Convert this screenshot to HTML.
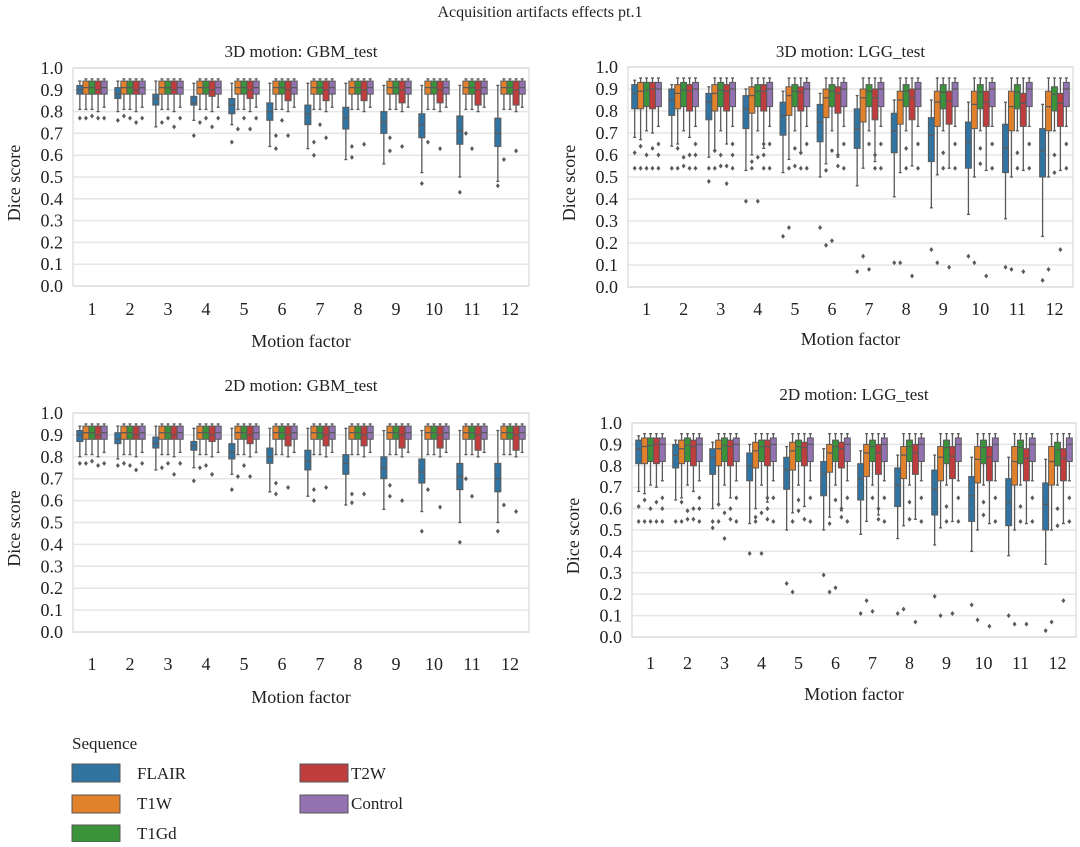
<!DOCTYPE html>
<html><head><meta charset="utf-8">
<style>
html,body{margin:0;padding:0;background:#fff;}
body{width:1080px;height:842px;overflow:hidden;font-family:"Liberation Serif",serif;}
svg text{font-family:"Liberation Serif",serif;fill:#222;}
</style></head>
<body>
<svg id="chart" width="1080" height="842" viewBox="0 0 1080 842" xmlns="http://www.w3.org/2000/svg">
<text x="540" y="17" font-size="16" text-anchor="middle">Acquisition artifacts effects pt.1</text>
<g id="panels"></g>
<g>
<text x="72" y="749" font-size="17">Sequence</text>
<rect x="72" y="764" width="48" height="18" fill="#3274a1" stroke="#555" stroke-width="1"/>
<text x="137" y="779" font-size="17">FLAIR</text>
<rect x="72" y="795" width="48" height="18" fill="#e1812c" stroke="#555" stroke-width="1"/>
<text x="137" y="809" font-size="17">T1W</text>
<rect x="72" y="825" width="48" height="17" fill="#3a923a" stroke="#555" stroke-width="1"/>
<text x="137" y="839" font-size="17">T1Gd</text>
<rect x="300" y="764" width="48" height="18" fill="#c03d3e" stroke="#555" stroke-width="1"/>
<text x="351" y="779" font-size="17">T2W</text>
<rect x="300" y="795" width="48" height="18" fill="#9372b2" stroke="#555" stroke-width="1"/>
<text x="351" y="809" font-size="17">Control</text>
</g>
</svg>
<script>
const categories = [1,2,3,4,5,6,7,8,9,10,11,12];
const yTicks = [0.0,0.1,0.2,0.3,0.4,0.5,0.6,0.7,0.8,0.9,1.0];
const seriesNames = ["FLAIR","T1W","T1Gd","T2W","Control"];
const seriesColors = ["#3274a1","#e1812c","#3a923a","#c03d3e","#9372b2"];

// GBM 3D
const gbm3dFlairQ1 = [0.88,0.86,0.83,0.83,0.79,0.76,0.74,0.72,0.70,0.68,0.65,0.64];
const gbm3dFlairMed = [0.90,0.88,0.86,0.84,0.83,0.80,0.79,0.77,0.75,0.74,0.71,0.70];
const gbm3dFlairQ3 = [0.92,0.91,0.88,0.87,0.86,0.84,0.83,0.82,0.80,0.79,0.78,0.77];
const gbm3dFlairLo = [0.81,0.80,0.73,0.76,0.74,0.64,0.63,0.58,0.56,0.52,0.50,0.48];
const gbm3dFlairHi = [0.94,0.94,0.94,0.93,0.93,0.93,0.93,0.93,0.92,0.92,0.92,0.92];
// GBM 2D
const gbm2dFlairQ1 = [0.87,0.86,0.84,0.83,0.79,0.77,0.74,0.72,0.70,0.68,0.65,0.64];
const gbm2dFlairMed = [0.90,0.88,0.86,0.85,0.82,0.80,0.78,0.77,0.75,0.73,0.71,0.70];
const gbm2dFlairQ3 = [0.92,0.91,0.89,0.87,0.86,0.84,0.83,0.81,0.80,0.79,0.77,0.77];
const gbm2dFlairLo = [0.80,0.79,0.74,0.75,0.72,0.64,0.62,0.58,0.56,0.55,0.50,0.50];
const gbm2dFlairHi = [0.94,0.94,0.94,0.93,0.93,0.93,0.93,0.93,0.92,0.92,0.92,0.92];
// GBM others (T1W, T1Gd, T2W, Control)
const gbmOtherQ1 = [0.88,0.88,0.87,0.88];
const gbmOtherMed = [0.91,0.91,0.90,0.91];
const gbmOtherQ3 = [0.94,0.94,0.94,0.94];
const gbmOtherLo = [0.81,0.81,0.80,0.82];
const gbmOtherHi = [0.95,0.95,0.95,0.95];
const gbmT2wQ1 = [0.88,0.88,0.88,0.87,0.86,0.85,0.85,0.85,0.84,0.84,0.83,0.83];

// LGG 3D
const lgg3dFlairQ1 = [0.81,0.78,0.76,0.72,0.69,0.66,0.63,0.61,0.57,0.54,0.52,0.50];
const lgg3dFlairMed = [0.88,0.85,0.84,0.81,0.78,0.75,0.72,0.71,0.69,0.66,0.63,0.62];
const lgg3dFlairQ3 = [0.92,0.90,0.88,0.87,0.84,0.83,0.81,0.79,0.77,0.75,0.74,0.72];
const lgg3dFlairLo = [0.68,0.64,0.59,0.53,0.52,0.50,0.46,0.41,0.36,0.33,0.31,0.23];
const lgg3dFlairHi = [0.94,0.92,0.91,0.90,0.89,0.88,0.87,0.85,0.85,0.84,0.84,0.83];
// LGG 2D
const lgg2dFlairQ1 = [0.81,0.79,0.76,0.73,0.69,0.66,0.64,0.61,0.57,0.54,0.52,0.50];
const lgg2dFlairMed = [0.88,0.85,0.84,0.80,0.78,0.76,0.74,0.71,0.69,0.66,0.63,0.62];
const lgg2dFlairQ3 = [0.92,0.90,0.88,0.86,0.84,0.82,0.81,0.79,0.78,0.75,0.74,0.72];
const lgg2dFlairLo = [0.68,0.64,0.60,0.53,0.50,0.50,0.48,0.46,0.43,0.40,0.38,0.34];
const lgg2dFlairHi = [0.94,0.92,0.91,0.90,0.89,0.88,0.87,0.85,0.85,0.84,0.84,0.83];
// LGG T1W
const lggT1wQ1 = [0.81,0.81,0.80,0.79,0.78,0.77,0.75,0.74,0.73,0.72,0.71,0.71];
const lggT1wMed = [0.89,0.88,0.88,0.87,0.87,0.86,0.86,0.85,0.84,0.83,0.82,0.82];
const lggT1wQ3 = [0.93,0.92,0.92,0.91,0.91,0.90,0.90,0.89,0.89,0.89,0.89,0.89];
const lggT1wLo = [0.67,0.65,0.62,0.60,0.58,0.56,0.54,0.52,0.51,0.50,0.50,0.50];
// LGG T2W
const lggT2wQ1 = [0.81,0.80,0.80,0.80,0.80,0.79,0.76,0.76,0.74,0.73,0.73,0.73];
const lggT2wQ3 = [0.93,0.92,0.92,0.92,0.91,0.91,0.90,0.90,0.89,0.89,0.88,0.88];
// LGG T1Gd, Control
const lggT1gdQ1 = [0.82,0.82,0.82,0.82,0.82,0.82,0.82,0.82,0.81,0.81,0.81,0.80];
const lggT1gdQ3 = [0.93,0.93,0.93,0.92,0.92,0.92,0.92,0.92,0.92,0.92,0.92,0.91];
const lggCtrlQ1 = [0.82,0.82,0.82,0.82,0.82,0.82,0.82,0.82,0.82,0.82,0.82,0.82];
const lggCtrlQ3 = [0.93,0.93,0.93,0.93,0.93,0.93,0.93,0.93,0.93,0.93,0.93,0.93];

// outliers [factorIndex, seriesIndex, value]
const gbm3dOutliers = [[0,0,0.77],[0,1,0.77],[0,2,0.78],[0,3,0.77],[0,4,0.77],[1,0,0.76],[1,1,0.78],[1,2,0.77],[1,3,0.75],[1,4,0.77],[2,1,0.75],[2,2,0.77],[2,3,0.73],[2,4,0.77],[3,0,0.69],[3,1,0.75],[3,2,0.77],[3,3,0.73],[3,4,0.77],[4,0,0.66],[4,1,0.72],[4,2,0.77],[4,3,0.72],[4,4,0.77],[5,1,0.69],[5,1,0.63],[5,2,0.76],[5,3,0.69],[6,1,0.66],[6,1,0.60],[6,2,0.74],[6,3,0.68],[7,1,0.64],[7,1,0.59],[7,3,0.65],[8,1,0.68],[8,1,0.62],[8,3,0.64],[9,0,0.47],[9,1,0.66],[9,3,0.63],[10,0,0.43],[10,1,0.70],[10,2,0.63],[11,0,0.46],[11,1,0.58],[11,3,0.62]];
const gbm2dOutliers = [[0,0,0.77],[0,1,0.77],[0,2,0.78],[0,3,0.76],[0,4,0.77],[1,0,0.76],[1,1,0.77],[1,2,0.76],[1,3,0.74],[1,4,0.77],[2,1,0.75],[2,2,0.77],[2,3,0.72],[2,4,0.77],[3,0,0.69],[3,1,0.75],[3,2,0.76],[3,3,0.72],[4,0,0.65],[4,1,0.71],[4,2,0.76],[4,3,0.71],[5,1,0.68],[5,1,0.63],[5,3,0.66],[6,1,0.65],[6,1,0.60],[6,3,0.66],[7,1,0.63],[7,1,0.59],[7,3,0.63],[8,1,0.67],[8,1,0.62],[8,3,0.60],[9,0,0.46],[9,1,0.65],[9,3,0.57],[10,0,0.41],[10,1,0.70],[10,2,0.62],[11,0,0.46],[11,1,0.58],[11,3,0.55]];
const lgg3dOutliers = [[0,0,0.61],[0,0,0.54],[0,1,0.64],[0,1,0.54],[0,2,0.60],[0,2,0.54],[0,3,0.63],[0,3,0.54],[0,4,0.65],[0,4,0.60],[0,4,0.54],[1,0,0.54],[1,1,0.63],[1,1,0.54],[1,2,0.59],[1,2,0.55],[1,3,0.60],[1,3,0.54],[1,4,0.65],[1,4,0.60],[1,4,0.54],[2,0,0.54],[2,0,0.48],[2,1,0.62],[2,1,0.54],[2,2,0.60],[2,2,0.55],[2,3,0.47],[2,3,0.55],[2,4,0.65],[2,4,0.60],[2,4,0.54],[3,0,0.39],[3,1,0.57],[3,1,0.54],[3,2,0.59],[3,2,0.39],[3,3,0.65],[3,3,0.60],[3,3,0.54],[3,4,0.65],[3,4,0.54],[4,0,0.23],[4,1,0.27],[4,1,0.54],[4,2,0.63],[4,2,0.55],[4,3,0.61],[4,3,0.54],[4,4,0.65],[4,4,0.54],[5,0,0.27],[5,1,0.19],[5,1,0.53],[5,2,0.62],[5,2,0.21],[5,3,0.60],[5,3,0.55],[5,4,0.65],[5,4,0.54],[6,0,0.07],[6,1,0.14],[6,2,0.65],[6,2,0.08],[6,3,0.60],[6,3,0.54],[6,4,0.65],[6,4,0.54],[7,0,0.11],[7,1,0.11],[7,2,0.63],[7,2,0.54],[7,3,0.05],[7,4,0.65],[7,4,0.54],[8,0,0.17],[8,1,0.11],[8,2,0.61],[8,2,0.54],[8,3,0.09],[8,4,0.65],[8,4,0.54],[9,0,0.14],[9,1,0.11],[9,2,0.63],[9,2,0.56],[9,3,0.05],[9,4,0.65],[9,4,0.54],[10,0,0.09],[10,1,0.08],[10,2,0.61],[10,2,0.54],[10,3,0.07],[10,4,0.65],[10,4,0.54],[11,0,0.03],[11,1,0.08],[11,2,0.60],[11,2,0.52],[11,3,0.17],[11,4,0.65],[11,4,0.54]];
const lgg2dOutliers = [[0,0,0.61],[0,0,0.54],[0,1,0.64],[0,1,0.54],[0,2,0.60],[0,2,0.54],[0,3,0.63],[0,3,0.54],[0,4,0.65],[0,4,0.60],[0,4,0.54],[1,0,0.54],[1,1,0.63],[1,1,0.54],[1,2,0.59],[1,2,0.55],[1,3,0.60],[1,3,0.55],[1,4,0.65],[1,4,0.60],[1,4,0.54],[2,0,0.54],[2,0,0.51],[2,1,0.62],[2,1,0.54],[2,2,0.58],[2,2,0.46],[2,3,0.60],[2,3,0.55],[2,4,0.65],[2,4,0.54],[3,0,0.39],[3,1,0.56],[3,1,0.54],[3,2,0.58],[3,2,0.39],[3,3,0.65],[3,3,0.60],[3,3,0.55],[3,4,0.65],[3,4,0.54],[4,0,0.25],[4,1,0.21],[4,1,0.54],[4,2,0.64],[4,2,0.59],[4,3,0.55],[4,4,0.65],[4,4,0.54],[5,0,0.29],[5,1,0.21],[5,1,0.53],[5,2,0.64],[5,2,0.23],[5,3,0.60],[5,3,0.56],[5,4,0.65],[5,4,0.54],[6,0,0.11],[6,1,0.17],[6,2,0.65],[6,2,0.12],[6,3,0.60],[6,3,0.55],[6,4,0.65],[6,4,0.54],[7,0,0.11],[7,1,0.13],[7,2,0.63],[7,2,0.55],[7,3,0.07],[7,4,0.65],[7,4,0.54],[8,0,0.19],[8,1,0.10],[8,2,0.61],[8,2,0.54],[8,3,0.11],[8,4,0.65],[8,4,0.54],[9,0,0.15],[9,1,0.08],[9,2,0.63],[9,2,0.57],[9,3,0.05],[9,4,0.65],[9,4,0.54],[10,0,0.10],[10,1,0.06],[10,2,0.61],[10,2,0.54],[10,3,0.06],[10,4,0.65],[10,4,0.54],[11,0,0.03],[11,1,0.07],[11,2,0.60],[11,2,0.52],[11,3,0.17],[11,4,0.65],[11,4,0.54]];

const NS = "http://www.w3.org/2000/svg";
function mk(tag, attrs, parent){
  const e = document.createElementNS(NS, tag);
  for (const k in attrs) e.setAttribute(k, attrs[k]);
  parent.appendChild(e);
  return e;
}

function buildStats(kind, flair){
  // returns stats[series][factor] = {q1,med,q3,lo,hi}
  const out = [];
  out.push(categories.map((c,i)=>({q1:flair.q1[i],med:flair.med[i],q3:flair.q3[i],lo:flair.lo[i],hi:flair.hi[i]})));
  if (kind === "gbm"){
    for (let s=0;s<4;s++){
      out.push(categories.map((c,i)=>({
        q1: s===2 ? gbmT2wQ1[i] : gbmOtherQ1[s],
        med: gbmOtherMed[s], q3: gbmOtherQ3[s], lo: gbmOtherLo[s], hi: gbmOtherHi[s]})));
    }
  } else {
    out.push(categories.map((c,i)=>({q1:lggT1wQ1[i],med:lggT1wMed[i],q3:lggT1wQ3[i],lo:lggT1wLo[i],hi:0.95})));
    out.push(categories.map((c,i)=>({q1:lggT1gdQ1[i],med:(lggT1gdQ1[i]+lggT1gdQ3[i])/2+0.02,q3:lggT1gdQ3[i],lo:0.71,hi:0.95})));
    out.push(categories.map((c,i)=>({q1:lggT2wQ1[i],med:(lggT2wQ1[i]+lggT2wQ3[i])/2+0.03,q3:lggT2wQ3[i],lo:lggT1wLo[i]+0.03,hi:0.95})));
    out.push(categories.map((c,i)=>({q1:lggCtrlQ1[i],med:0.90,q3:lggCtrlQ3[i],lo:0.73,hi:0.95})));
  }
  return out;
}

const panels = [
  {name:"gbm-3d", title:"3D motion: GBM_test", kind:"gbm", left:73, right:529, top:68, bottom:286, titleY:57, xlabY:315, mfY:347,
   flair:{q1:gbm3dFlairQ1,med:gbm3dFlairMed,q3:gbm3dFlairQ3,lo:gbm3dFlairLo,hi:gbm3dFlairHi}, outliers:gbm3dOutliers, ylabX:14},
  {name:"lgg-3d", title:"3D motion: LGG_test", kind:"lgg", left:628, right:1073, top:67, bottom:287, titleY:57, xlabY:315, mfY:345,
   flair:{q1:lgg3dFlairQ1,med:lgg3dFlairMed,q3:lgg3dFlairQ3,lo:lgg3dFlairLo,hi:lgg3dFlairHi}, outliers:lgg3dOutliers, ylabX:569},
  {name:"gbm-2d", title:"2D motion: GBM_test", kind:"gbm", left:73, right:529, top:413, bottom:632, titleY:391, xlabY:670, mfY:703,
   flair:{q1:gbm2dFlairQ1,med:gbm2dFlairMed,q3:gbm2dFlairQ3,lo:gbm2dFlairLo,hi:gbm2dFlairHi}, outliers:gbm2dOutliers, ylabX:14},
  {name:"lgg-2d", title:"2D motion: LGG_test", kind:"lgg", left:632, right:1076, top:423, bottom:637, titleY:400, xlabY:669, mfY:700,
   flair:{q1:lgg2dFlairQ1,med:lgg2dFlairMed,q3:lgg2dFlairQ3,lo:lgg2dFlairLo,hi:lgg2dFlairHi}, outliers:lgg2dOutliers, ylabX:573}
];

const root = document.getElementById("panels");
panels.forEach(p=>{
  const g = mk("g", {}, root);
  
  
  const y = v => p.bottom - v*(p.bottom - p.top);
  const step = (p.right - p.left)/categories.length;
  const xc = i => p.left + step*(i+0.5);
  const bw = step*0.8/5;
  const bx = (i,s) => xc(i) - step*0.4 + bw*s;

  // grid
  yTicks.forEach(t=>{
    const l = mk("line",{x1:p.left,x2:p.right,y1:y(t),y2:y(t),stroke:"#e6e6e6","stroke-width":1.5},g);
    
    
    const tx = mk("text",{x:p.left-10,y:y(t)+6,"font-size":18,"text-anchor":"end"},g);
    tx.textContent = t.toFixed(1);
    
    
  });
  const fr = mk("rect",{x:p.left,y:p.top,width:p.right-p.left,height:p.bottom-p.top,fill:"none",stroke:"#e0e0e0","stroke-width":1.5},g);
  
  

  categories.forEach((c,i)=>{
    const tx = mk("text",{x:xc(i),y:p.xlabY,"font-size":18,"text-anchor":"middle"},g);
    tx.textContent = c;
    
    
  });
  const tt = mk("text",{x:(p.left+p.right)/2,y:p.titleY,"font-size":17,"text-anchor":"middle"},g);
  tt.textContent = p.title;
  
  
  const xt = mk("text",{x:(p.left+p.right)/2,y:p.mfY,"font-size":18,"text-anchor":"middle"},g);
  xt.textContent = "Motion factor";
  
  
  const ym = (p.top+p.bottom)/2;
  const yt = mk("text",{x:p.ylabX,y:ym,"font-size":18,"text-anchor":"middle",transform:`rotate(-90 ${p.ylabX+6} ${ym})`},g);
  yt.textContent = "Dice score";
  
  

  const stats = buildStats(p.kind, p.flair);
  stats.forEach((ser,s)=>{
    ser.forEach((d,i)=>{
      const x0 = bx(i,s), xm = x0 + bw/2;
      const wl = mk("line",{x1:xm,x2:xm,y1:y(d.lo),y2:y(d.hi),stroke:"#5a5a5a","stroke-width":1.3},g);
      
      
      [d.lo,d.hi].forEach(v=>{
        const cap = mk("line",{x1:xm-bw*0.25,x2:xm+bw*0.25,y1:y(v),y2:y(v),stroke:"#5a5a5a","stroke-width":1.3},g);
        
        
      });
      const r = mk("rect",{x:x0,y:y(d.q3),width:bw,height:Math.max(1,y(d.q1)-y(d.q3)),fill:seriesColors[s],stroke:"#5a5a5a","stroke-width":1},g);
      
      
      const m = mk("line",{x1:x0,x2:x0+bw,y1:y(d.med),y2:y(d.med),stroke:"#5a5a5a","stroke-width":1.3},g);
      
      
    });
  });
  function c(i){ return categories[i]; }
  p.outliers.forEach(o=>{
    const pt = mk("path",{d:`M${bx(o[0],o[1])+bw/2} ${y(o[2])-2.5} l2 2.5 l-2 2.5 l-2 -2.5 z`,fill:"#5a5a5a"},g);
    
    
  });
});
</script>
</body></html>
